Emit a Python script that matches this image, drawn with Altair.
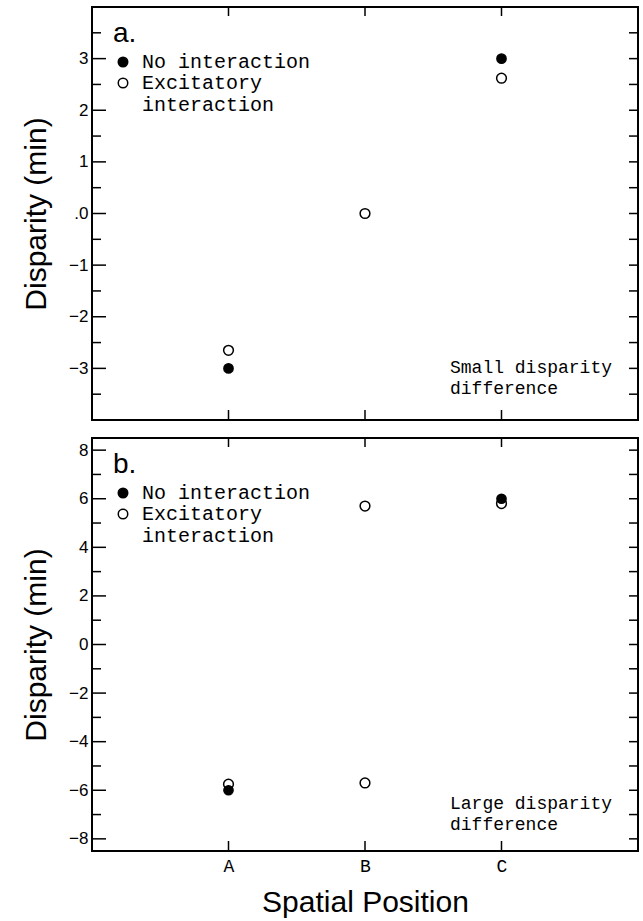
import altair as alt
import pandas as pd

# ---------------- data ----------------
positions = ["A", "B", "C"]
series_names = ["No interaction", "Excitatory interaction"]

# panel a (small disparity difference)
a_no_pos = ["A", "C"]
a_no_val = [-3.0, 3.0]
a_exc_pos = ["A", "B", "C"]
a_exc_val = [-2.65, 0.0, 2.62]

# panel b (large disparity difference)
b_no_pos = ["A", "C"]
b_no_val = [-6.0, 6.0]
b_exc_pos = ["A", "B", "B", "C"]
b_exc_val = [-5.75, 5.7, -5.7, 5.8]

# axes
a_domain = [-4, 4]
a_major = [-3, -2, -1, 0, 1, 2, 3]
a_minor = [-3.5, -2.5, -1.5, -0.5, 0.5, 1.5, 2.5, 3.5]
a_right = [-3.5, -3, -2.5, -2, -1.5, -1, -0.5, 0, 0.5, 1, 1.5, 2, 2.5, 3, 3.5]

b_domain = [-8.5, 8.5]
b_major = [-8, -6, -4, -2, 0, 2, 4, 6, 8]
b_minor = [-7, -5, -3, -1, 1, 3, 5, 7]
b_right = [-8, -7, -6, -5, -4, -3, -2, -1, 0, 1, 2, 3, 4, 5, 6, 7, 8]

a_label = "a."
b_label = "b."
a_note = ["Small disparity", "difference"]
b_note = ["Large disparity", "difference"]

W, H = 546, 413
SANS = "Liberation Sans"
MONO = "Liberation Mono"


def panel(no_pos, no_val, exc_pos, exc_val, domain, major, minor, right,
          label_expr, panel_label, note, show_x, note_y):
    df_no = pd.DataFrame({"pos": no_pos, "val": no_val, "series": series_names[0]})
    df_exc = pd.DataFrame({"pos": exc_pos, "val": exc_val, "series": series_names[1]})

    xscale = alt.Scale(type="point", domain=positions, padding=2.33)
    yscale = alt.Scale(domain=domain, nice=False, zero=False)
    fscale = alt.Scale(domain=series_names, range=["black", "white"])

    if show_x:
        xaxis = alt.Axis(title="Spatial Position", labelFont=MONO, labelFontSize=18,
                         labelAngle=0, ticks=False, tickSize=0, domain=False,
                         labelPadding=6, labelColor="black", titleFont=SANS,
                         titleFontSize=30, titleFontWeight="normal",
                         titlePadding=12, titleColor="black", grid=False)
    else:
        xaxis = None

    yaxis = alt.Axis(title="Disparity (min)", values=major, labelExpr=label_expr,
                     ticks=False, tickSize=0, domain=False, grid=False,
                     labelFont=SANS, labelFontSize=17, labelPadding=4,
                     labelColor="black", titleFont=SANS, titleFontSize=30,
                     titleFontWeight="normal", titleColor="black", titlePadding=17)

    legend = alt.Legend(title=None, orient="none", legendX=21, legendY=45,
                        symbolType="circle", symbolSize=90, symbolStrokeColor="black",
                        symbolStrokeWidth=1.5, labelFont=MONO, labelFontSize=20,
                        labelColor="black", labelLimit=0, labelOffset=9,
                        rowPadding=1, padding=0,
                        labelExpr="datum.label == 'Excitatory interaction' ? ['Excitatory', 'interaction'] : datum.label")

    X = lambda f: alt.X(f, scale=xscale, axis=xaxis, title="Spatial Position")
    Y = lambda f: alt.Y(f, scale=yscale, axis=yaxis, title="Disparity (min)")

    open_pts = alt.Chart(df_exc).mark_point(shape="circle", filled=True, stroke="black",
                                           strokeWidth=1.5, size=95, opacity=1).encode(
        x=X("pos:N"), y=Y("val:Q"),
        fill=alt.Fill("series:N", scale=fscale, legend=legend),
    )
    filled_pts = alt.Chart(df_no).mark_point(shape="circle", filled=True, stroke="black",
                                            strokeWidth=1.5, size=85, opacity=1).encode(
        x=X("pos:N"), y=Y("val:Q"),
        fill=alt.Fill("series:N", scale=fscale, legend=legend),
    )

    tick_style = dict(color="black", strokeWidth=1.5)
    left_major = alt.Chart(pd.DataFrame({"val": major})).mark_rule(**tick_style).encode(
        y=Y("val:Q"), x=alt.value(0), x2=alt.value(14))
    left_minor = alt.Chart(pd.DataFrame({"val": minor})).mark_rule(**tick_style).encode(
        y=Y("val:Q"), x=alt.value(0), x2=alt.value(9))
    right_ticks = alt.Chart(pd.DataFrame({"val": right})).mark_rule(**tick_style).encode(
        y=Y("val:Q"), x=alt.value(W), x2=alt.value(W - 9))
    top_ticks = alt.Chart(pd.DataFrame({"pos": positions})).mark_rule(**tick_style).encode(
        x=X("pos:N"), y=alt.value(0), y2=alt.value(9))
    bottom_ticks = alt.Chart(pd.DataFrame({"pos": positions})).mark_rule(**tick_style).encode(
        x=X("pos:N"), y=alt.value(H), y2=alt.value(H - 10))

    one = pd.DataFrame({"k": [0]})
    lab = alt.Chart(one).mark_text(font=SANS, fontSize=28, align="left",
                                   baseline="alphabetic", color="black").encode(
        x=alt.value(21), y=alt.value(35), text=alt.value(panel_label))
    note_txt = alt.Chart(one).mark_text(font=MONO, fontSize=18, align="left",
                                        baseline="middle", lineHeight=21,
                                        color="black").encode(
        x=alt.value(358), y=alt.value(note_y), text=alt.value(note))

    return alt.layer(open_pts, filled_pts, left_major, left_minor, right_ticks,
                     top_ticks, bottom_ticks, lab, note_txt).properties(width=W, height=H)


top = panel(a_no_pos, a_no_val, a_exc_pos, a_exc_val, a_domain, a_major, a_minor,
            a_right, "datum.value == 0 ? '.0' : datum.label", a_label, a_note, False, 361)
bottom = panel(b_no_pos, b_no_val, b_exc_pos, b_exc_val, b_domain, b_major, b_minor,
               b_right, "datum.label", b_label, b_note, True, 366)

chart = alt.vconcat(top, bottom, spacing=18, bounds="flush").resolve_scale(
    x="independent", y="independent", fill="independent"
).resolve_legend(fill="independent").properties(
    padding={"left": 20, "top": 5, "right": 2, "bottom": 4},
    background="white",
).configure(
    style={"guide-label": {"lineHeight": 22}}
).configure_view(stroke="black", strokeWidth=2)

chart.save("out.html", embed_options={"renderer": "svg", "actions": False})
